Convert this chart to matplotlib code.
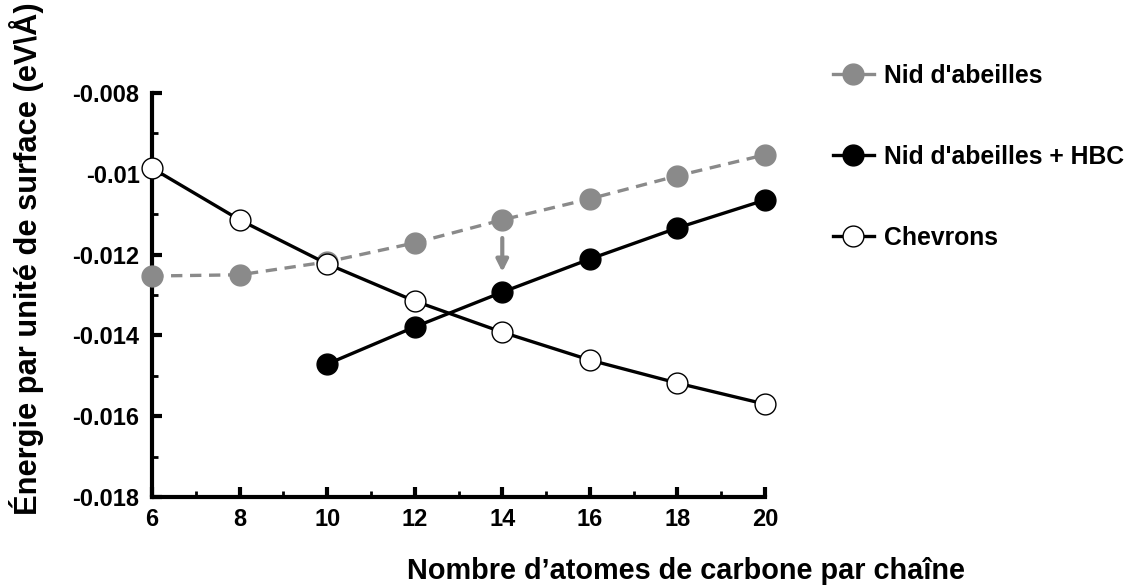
import matplotlib
matplotlib.use("Agg")
import matplotlib.pyplot as plt
from matplotlib.ticker import MultipleLocator, FuncFormatter

plt.rcParams['font.family'] = ['Liberation Sans', 'DejaVu Sans']
plt.rcParams['font.weight'] = 'bold'

x_nid = [6, 8, 10, 12, 14, 16, 18, 20]
y_nid = [-0.01253, -0.01250, -0.01218, -0.01171, -0.01114, -0.01062, -0.01005, -0.00953]
x_hbc = [10, 12, 14, 16, 18, 20]
y_hbc = [-0.01471, -0.01379, -0.01293, -0.01211, -0.01134, -0.01065]
x_chev = [6, 8, 10, 12, 14, 16, 18, 20]
y_chev = [-0.00986, -0.01114, -0.01223, -0.01315, -0.01392, -0.01461, -0.01518, -0.01570]
labels = ["Nid d'abeilles", "Nid d'abeilles + HBC", "Chevrons"]
arrow_x = 14
arrow_from = -0.01159
arrow_to = -0.01243

GRAY = '#8a8a8a'
fig = plt.figure(figsize=(11.38, 5.87), dpi=100)
ax = fig.add_axes([0.1336, 0.1533, 0.6722 - 0.1336, 0.8416 - 0.1533])

ms = 15
lw = 2.4
l1, = ax.plot(x_nid, y_nid, color=GRAY, lw=lw, ls=(0, (3.4, 2.3)), marker='o', ms=ms,
              mfc=GRAY, mec=GRAY, clip_on=False, zorder=3, label=labels[0])
l2, = ax.plot(x_hbc, y_hbc, color='black', lw=lw, marker='o', ms=ms,
              mfc='black', mec='black', clip_on=False, zorder=4, label=labels[1])
l3, = ax.plot(x_chev, y_chev, color='black', lw=lw, marker='o', ms=ms,
              mfc='white', mec='black', mew=1.0, clip_on=False, zorder=5, label=labels[2])

ax.annotate('', xy=(arrow_x, arrow_to), xytext=(arrow_x, arrow_from),
            arrowprops=dict(arrowstyle='-|>,head_width=0.35,head_length=0.7',
                            color=GRAY, lw=3, shrinkA=0, shrinkB=0), zorder=2)

ax.set_xlim(6, 20)
ax.set_ylim(-0.018, -0.008)
ax.xaxis.set_major_locator(MultipleLocator(2))
ax.xaxis.set_minor_locator(MultipleLocator(1))
ax.yaxis.set_major_locator(MultipleLocator(0.002))
ax.yaxis.set_minor_locator(MultipleLocator(0.001))
ax.yaxis.set_major_formatter(FuncFormatter(lambda v, p: '%g' % round(v, 6)))
for s in ['top', 'right']:
    ax.spines[s].set_visible(False)
for s in ['left', 'bottom']:
    ax.spines[s].set_linewidth(3)
ax.tick_params(which='major', direction='in', length=7, width=3, labelsize=17)
ax.tick_params(axis='y', which='major', pad=9)
ax.tick_params(axis='x', which='major', pad=8)
ax.tick_params(which='minor', direction='in', length=4, width=2)
for t in ax.get_xticklabels() + ax.get_yticklabels():
    t.set_fontweight('bold')

fig.text(0.0237, 1 - 515 / 587, "Énergie par unité de surface (eV\\Å)", fontsize=22.2,
         fontweight='bold', rotation=90, ha='center', va='bottom')
fig.text(0.6025, 1 - 571 / 587, "Nombre d\u2019atomes de carbone par chaîne", fontsize=20.8,
         fontweight='bold', ha='center', va='center')

leg = fig.legend(handles=[l1, l2, l3], labels=labels, loc='upper left',
                 bbox_to_anchor=(0.732, 0.891), frameon=False,
                 labelspacing=2.3, handlelength=1.65, handletextpad=0.42,
                 borderpad=0, borderaxespad=0, prop={'weight': 'bold', 'size': 17.8})
for h in leg.legend_handles:
    h.set_linestyle('-')

fig.savefig('out.png', dpi=100)
